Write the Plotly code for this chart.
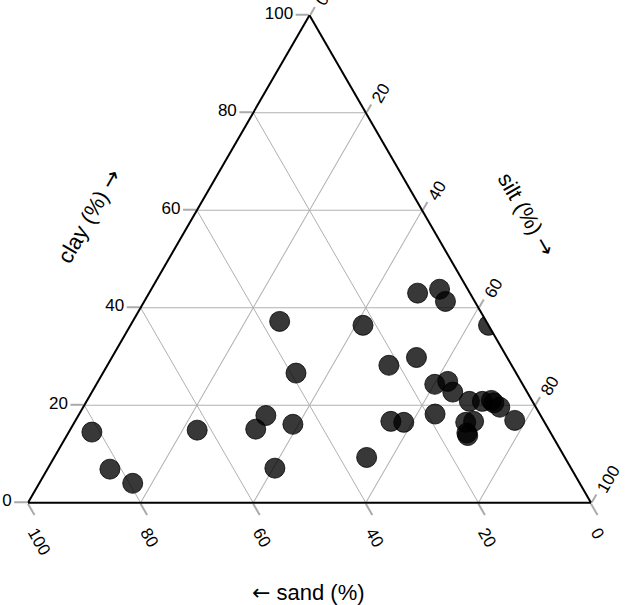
import plotly.graph_objects as go

clay = [14.5, 6.9, 4.0, 14.9, 15.1, 17.9, 16.1, 7.1, 37.2, 26.6, 36.4, 9.3, 28.2, 29.8,
        16.7, 16.5, 43.0, 43.8, 41.3, 36.4, 24.3, 24.9, 22.7, 18.2, 20.8, 20.8, 21.0, 20.5,
        19.6, 16.9, 16.5, 16.7, 14.3, 13.8]
sand = [81.4, 82.0, 79.4, 62.5, 52.0, 48.8, 44.9, 52.6, 36.7, 39.1, 22.3, 35.2, 21.8, 16.1,
        27.2, 25.0, 9.3, 5.0, 5.2, 0.0, 15.6, 13.0, 13.2, 18.6, 11.2, 8.9, 7.2, 7.0,
        6.4, 5.1, 14.0, 12.5, 14.9, 15.0]
silt = [4.1, 11.1, 16.6, 22.6, 32.9, 33.3, 39.0, 40.3, 26.1, 34.3, 41.3, 55.5, 50.0, 54.1,
        56.1, 58.5, 47.7, 51.2, 53.5, 63.6, 60.1, 62.1, 64.1, 63.2, 68.0, 70.3, 71.8, 72.5,
        74.0, 78.0, 69.5, 70.8, 70.8, 71.2]

tickvals = [0, 20, 40, 60, 80, 100]
FONT = "Liberation Sans, Arial, sans-serif"
ARW = '<span style="font-family:DejaVu Sans">{}</span>'

fig = go.Figure(go.Scatterternary(
    a=clay, b=sand, c=silt, mode="markers",
    marker=dict(size=20, color="rgba(0,0,0,0.78)",
                line=dict(color="rgba(0,0,0,0.78)", width=1)),
    showlegend=False, hoverinfo="skip",
))

def ax(angle=None, tl=13):
    d = dict(title=dict(text=""), tickmode="array", tickvals=tickvals,
             ticktext=[str(v) for v in tickvals],
             ticks="outside", ticklen=tl, tickcolor="#aaaaaa", tickwidth=1.5,
             gridcolor="#b0b0b0", gridwidth=1.4, linecolor="black", linewidth=2,
             showline=True, showgrid=True,
             tickfont=dict(family=FONT, size=17, color="black"), min=0)
    if angle is not None:
        d["tickangle"] = angle
    return d

common = dict(xref="paper", yref="paper", showarrow=False,
              xanchor="center", yanchor="middle")

fig.update_layout(
    width=626, height=605,
    margin=dict(l=28, r=35, t=15, b=102),
    paper_bgcolor="white", plot_bgcolor="white",
    font=dict(family=FONT, color="black"),
    ternary=dict(sum=100, bgcolor="white",
                 aaxis=ax(), baxis=ax(60), caxis=ax(-60, tl=9)),
    annotations=[
        dict(text="clay (%) " + ARW.format("→"), x=0.108, y=0.588,
             textangle=-60, font=dict(size=22, family=FONT), **common),
        dict(text="silt (%) " + ARW.format("→"), x=0.886, y=0.592,
             textangle=60, font=dict(size=22, family=FONT), **common),
        dict(text=ARW.format("←") + " sand (%)", x=0.499, y=-0.184,
             font=dict(size=22, family=FONT), **common),
    ],
)

fig.write_html("out.html")
